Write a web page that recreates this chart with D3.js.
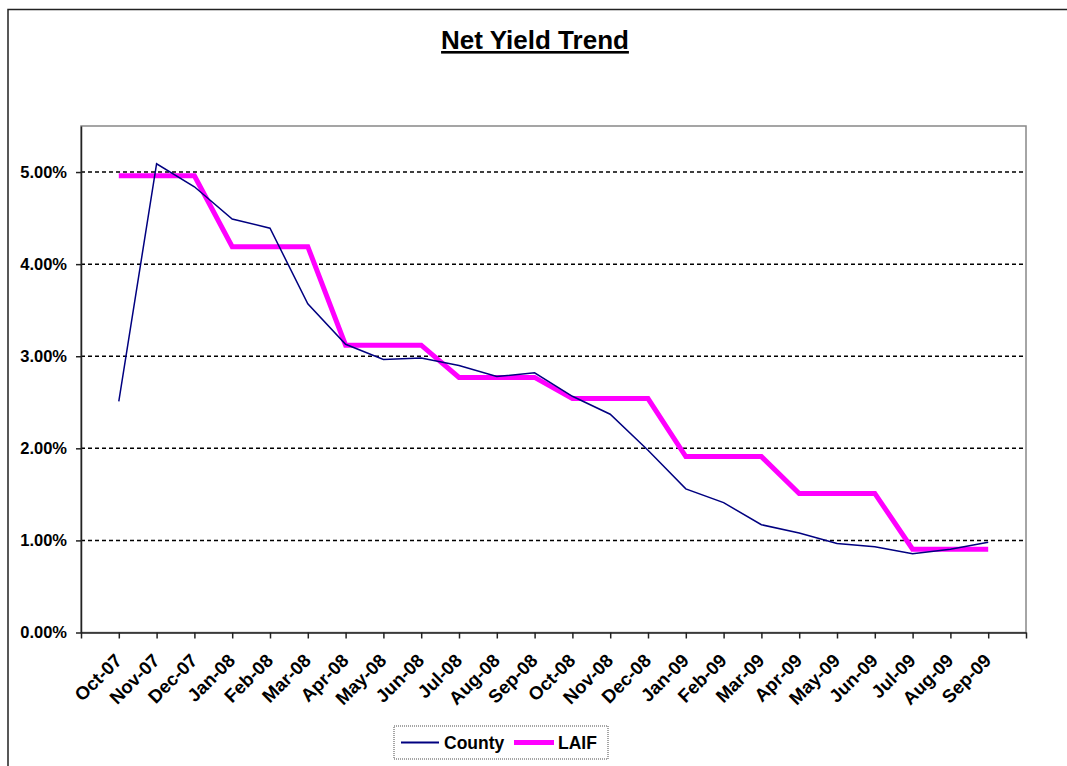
<!DOCTYPE html>
<html>
<head>
<meta charset="utf-8">
<script src="https://cdn.jsdelivr.net/npm/d3@7"></script>
<style>
  body { margin: 0; background: #fff; }
  svg { display: block; font-family: "Liberation Sans", Arial, sans-serif; }
</style>
</head>
<body>
<svg id="chart" width="1067" height="766"></svg>
<script>
const months = ["Oct-07", "Nov-07", "Dec-07", "Jan-08", "Feb-08", "Mar-08", "Apr-08", "May-08",
  "Jun-08", "Jul-08", "Aug-08", "Sep-08", "Oct-08", "Nov-08", "Dec-08", "Jan-09", "Feb-09",
  "Mar-09", "Apr-09", "May-09", "Jun-09", "Jul-09", "Aug-09", "Sep-09"];

const county = [0.0251, 0.0509, 0.0484, 0.0449, 0.0439, 0.0357, 0.0313, 0.02965, 0.0298,
  0.0290, 0.0278, 0.0282, 0.02565, 0.0237, 0.0198, 0.0156, 0.0141, 0.0117, 0.0108,
  0.00966, 0.0093, 0.00854, 0.00905, 0.0098];

const laif = [0.0496, 0.0496, 0.0496, 0.0419, 0.0419, 0.0419, 0.0312, 0.0312, 0.0312,
  0.0277, 0.0277, 0.0277, 0.0254, 0.0254, 0.0254, 0.0191, 0.0191, 0.0191, 0.0151,
  0.0151, 0.0151, 0.00905, 0.00905, 0.00905];

const yTicks = [0, 0.01, 0.02, 0.03, 0.04, 0.05];

const svg = d3.select("#chart");
const plot = { left: 81, right: 1026, top: 126, bottom: 632.5 };

// outer chart frame (only top and left edges show in the picture)
svg.append("rect")
  .attr("x", 8).attr("y", 9.5)
  .attr("width", 1200).attr("height", 900)
  .attr("fill", "none")
  .attr("stroke", "#222")
  .attr("stroke-width", 1.5);

// title
svg.append("text")
  .attr("x", 535).attr("y", 49)
  .attr("text-anchor", "middle")
  .attr("font-size", 26)
  .attr("font-weight", "bold")
  .attr("text-decoration", "underline")
  .text("Net Yield Trend");

// one extra empty slot on each side of the months, points sit on the ticks
const x = d3.scaleLinear().domain([-1, months.length]).range([plot.left, plot.right]);
const y = d3.scaleLinear().domain([0, 0.055]).range([plot.bottom, plot.top]);

// plot area border
svg.append("rect")
  .attr("x", plot.left).attr("y", plot.top)
  .attr("width", plot.right - plot.left).attr("height", plot.bottom - plot.top)
  .attr("fill", "none")
  .attr("stroke", "#888")
  .attr("stroke-width", 1.5);

// dotted gridlines
svg.append("g")
  .selectAll("line")
  .data(yTicks.filter(d => d > 0))
  .join("line")
  .attr("x1", plot.left).attr("x2", plot.right)
  .attr("y1", d => y(d)).attr("y2", d => y(d))
  .attr("stroke", "#000")
  .attr("stroke-width", 1.5)
  .attr("stroke-dasharray", "4,3");

// y axis
const yAxis = svg.append("g")
  .attr("transform", `translate(${plot.left},0)`)
  .call(d3.axisLeft(y).tickValues(yTicks).tickFormat(d3.format(".2%")).tickSize(5).tickSizeOuter(0).tickPadding(9));
yAxis.select(".domain").attr("stroke", "#222").attr("stroke-width", 1.5);
yAxis.selectAll(".tick line").attr("stroke", "#222").attr("stroke-width", 1.5);
yAxis.selectAll("text")
  .attr("font-size", 16.5)
  .attr("font-weight", "bold")
  .attr("font-family", "Liberation Sans, Arial, sans-serif")
  .attr("fill", "#000");

// x axis
const xAxis = svg.append("g")
  .attr("transform", `translate(0,${plot.bottom})`)
  .call(d3.axisBottom(x).tickValues(d3.range(-1, months.length + 1)).tickFormat(() => "").tickSize(6).tickSizeOuter(0));
xAxis.select(".domain").attr("stroke", "#222").attr("stroke-width", 1.5);
xAxis.selectAll(".tick line").attr("stroke", "#222").attr("stroke-width", 1.5);

svg.append("g")
  .selectAll("text")
  .data(months)
  .join("text")
  .attr("transform", (d, i) => `translate(${x(i) - 5},${plot.bottom + 20}) rotate(-45)`)
  .attr("text-anchor", "end")
  .attr("dy", "0.7em")
  .attr("font-size", 18.5)
  .attr("font-weight", "bold")
  .text(d => d);

// series lines
const line = d3.line().x((d, i) => x(i)).y(d => y(d));

svg.append("path")
  .datum(laif)
  .attr("d", line)
  .attr("fill", "none")
  .attr("stroke", "#ff00ff")
  .attr("stroke-width", 5);

svg.append("path")
  .datum(county)
  .attr("d", line)
  .attr("fill", "none")
  .attr("stroke", "#000080")
  .attr("stroke-width", 1.5);

// legend
const legend = svg.append("g");
legend.append("rect")
  .attr("x", 394).attr("y", 726)
  .attr("width", 214).attr("height", 33)
  .attr("fill", "#fff")
  .attr("stroke", "#888")
  .attr("stroke-width", 1.5)
  .attr("stroke-dasharray", "1,1");

const items = [
  { name: "County", color: "#000080", width: 2, x1: 401, x2: 439, tx: 444 },
  { name: "LAIF", color: "#ff00ff", width: 5, x1: 514, x2: 554, tx: 558 }
];
items.forEach(it => {
  legend.append("line")
    .attr("x1", it.x1).attr("x2", it.x2)
    .attr("y1", 742.5).attr("y2", 742.5)
    .attr("stroke", it.color)
    .attr("stroke-width", it.width);
  legend.append("text")
    .attr("x", it.tx).attr("y", 749)
    .attr("font-size", 17.5)
    .attr("font-weight", "bold")
    .text(it.name);
});
</script>
</body>
</html>
